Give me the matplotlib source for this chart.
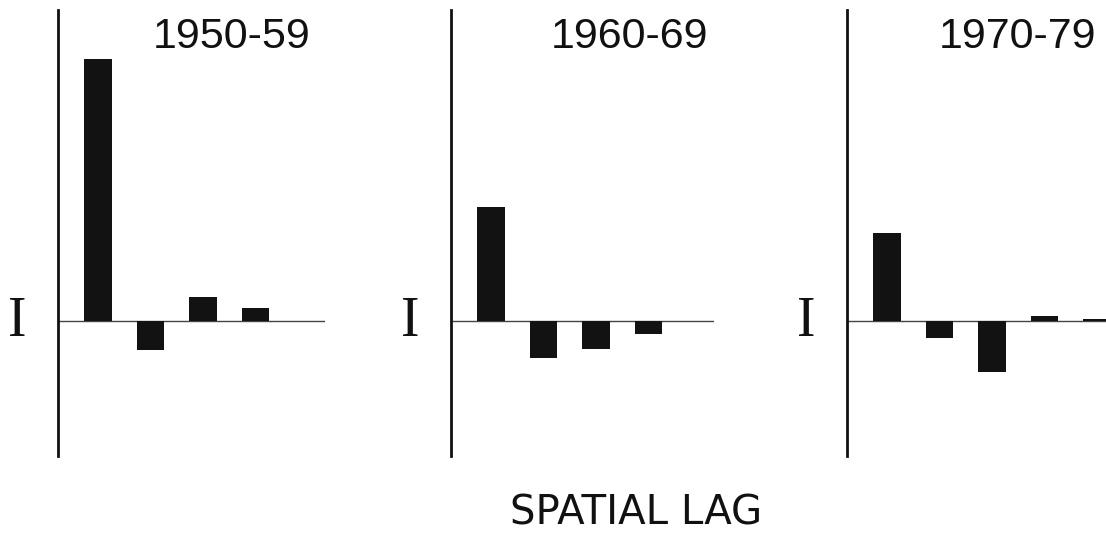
import matplotlib
matplotlib.use("Agg")
import matplotlib.pyplot as plt

# ---- data (Moran's I by spatial lag, arbitrary units) ----
lags = [1, 2, 3, 4, 5]
periods = ["1950-59", "1960-69", "1970-79"]
i_1950 = [0.794, -0.088, 0.073, 0.039, 0.0]
i_1960 = [0.345, -0.112, -0.085, -0.039, 0.0]
i_1970 = [0.267, -0.052, -0.155, 0.015, 0.005]
series = [i_1950, i_1960, i_1970]
y_label = "I"
x_label = "SPATIAL LAG"

W, H = 1106, 534
fig = plt.figure(figsize=(W / 100, H / 100), dpi=100)

# axes pixel boxes
ax_left_px = [58, 451, 847]
ax_right_px = [325, 714, 1113]
top_px, bot_px = 10, 456
title_dx = [174, 178, 170]

for k in range(3):
    l = ax_left_px[k] / W
    w = (ax_right_px[k] - ax_left_px[k]) / W
    b = 1 - bot_px / H
    h = (bot_px - top_px) / H
    ax = fig.add_axes([l, b, w, h])
    ax.set_xlim(0.24, 0.24 + (ax_right_px[k] - ax_left_px[k]) / 52.5)
    ax.set_ylim(-0.409, 0.942)
    ax.bar(lags, series[k], width=0.52, color="#121212", zorder=3)
    ax.axhline(0, color="#444444", lw=1.0, zorder=2)
    for s in ["top", "right", "bottom"]:
        ax.spines[s].set_visible(False)
    ax.spines["left"].set_linewidth(2.0)
    ax.spines["left"].set_color("#111111")
    ax.set_xticks([])
    ax.set_yticks([])
    ax.patch.set_alpha(0)
    ax.annotate(periods[k], xy=(0, 1), xycoords="axes fraction",
                xytext=(title_dx[k], -27), textcoords="offset pixels",
                ha="center", va="center", fontsize=31,
                family="Liberation Sans", color="#111111")
    ax.annotate(y_label, xy=(0, 0), xycoords=("axes fraction", "data"),
                xytext=(-41, -1), textcoords="offset pixels",
                ha="center", va="center", fontsize=40,
                family="Liberation Serif", color="#111111")

fig.text(636 / W, 1 - 513.5 / H, x_label, ha="center", va="center",
         fontsize=29, family="DejaVu Sans", color="#111111")

fig.savefig("out.png", dpi=100)
